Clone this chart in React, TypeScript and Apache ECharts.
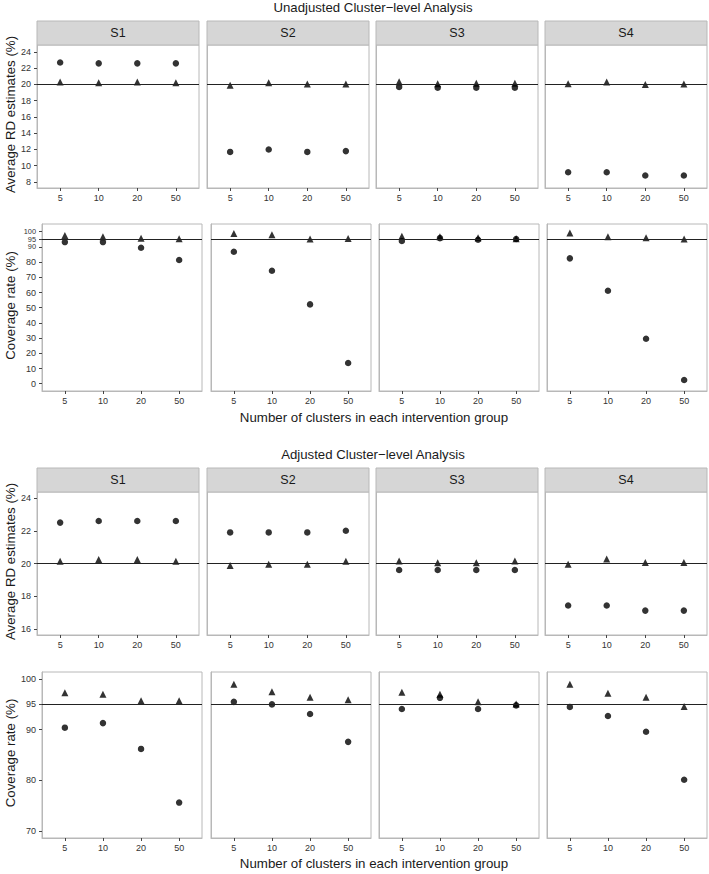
import React, { useEffect, useRef } from 'react';
import * as echarts from 'echarts';

// ---------- data ----------
const xLabels = ['5', '10', '20', '50'];
const scenarios = ['S1', 'S2', 'S3', 'S4'];
const sectionTitles = ['Unadjusted Cluster\u2212level Analysis', 'Adjusted Cluster\u2212level Analysis'];
const yTitleRD = 'Average RD estimates (%)';
const yTitleCov = 'Coverage rate (%)';
const xTitle = 'Number of clusters in each intervention group';

// Unadjusted: average RD estimates (%) per scenario S1..S4, at 5,10,20,50 clusters
const unadjRDCircle = [
  [22.7, 22.6, 22.6, 22.6],
  [11.7, 12.0, 11.7, 11.8],
  [19.7, 19.6, 19.6, 19.6],
  [9.2, 9.2, 8.8, 8.8],
];
const unadjRDTriangle = [
  [20.3, 20.2, 20.3, 20.2],
  [19.9, 20.2, 20.05, 20.05],
  [20.35, 20.1, 20.15, 20.15],
  [20.1, 20.3, 20.0, 20.05],
];
// Unadjusted: coverage rate (%)
const unadjCovCircle = [
  [93.2, 93.2, 89.5, 81.4],
  [86.8, 74.3, 52.2, 13.6],
  [93.9, 95.8, 94.7, 95.2],
  [82.5, 61.2, 29.6, 2.4],
];
const unadjCovTriangle = [
  [97.6, 96.7, 95.8, 95.4],
  [98.9, 98.0, 95.2, 95.6],
  [97.1, 96.7, 96.0, 95.4],
  [99.1, 96.7, 96.0, 95.2],
];
// Adjusted: average RD estimates (%)
const adjRDCircle = [
  [22.5, 22.6, 22.6, 22.6],
  [21.9, 21.9, 21.9, 22.0],
  [19.6, 19.6, 19.6, 19.6],
  [17.43, 17.43, 17.12, 17.12],
];
const adjRDTriangle = [
  [20.14, 20.24, 20.24, 20.14],
  [19.88, 19.96, 19.96, 20.14],
  [20.16, 20.04, 20.04, 20.16],
  [19.96, 20.27, 20.06, 20.06],
];
// Adjusted: coverage rate (%)
const adjCovCircle = [
  [90.4, 91.3, 86.2, 75.6],
  [95.5, 95.0, 93.1, 87.6],
  [94.1, 96.3, 94.1, 94.8],
  [94.5, 92.7, 89.6, 80.1],
];
const adjCovTriangle = [
  [97.3, 97.0, 95.7, 95.7],
  [99.0, 97.5, 96.4, 95.9],
  [97.4, 97.0, 95.5, 95.1],
  [99.0, 97.2, 96.4, 94.6],
];

// tick labels
const unadjRDTicks = [8, 10, 12, 14, 16, 18, 20, 22, 24];
const unadjCovTicks = [0, 10, 20, 30, 40, 50, 60, 70, 80, 90, 95, 100];
const adjRDTicks = [16, 18, 20, 22, 24];
const adjCovTicks = [70, 80, 90, 95, 100];
const unadjCovCrowdedTicks = [[95], [90, 100]];
const rdReference = 20;
const covReference = 95;

// ---------- layout ----------
const FONT = '"Liberation Sans", Arial, Helvetica, sans-serif';
const colsA = [37, 207, 376, 545];
const colsB = [42, 211, 379, 547];

// 'crowded' = groups of tick labels placed on twin axes (slightly smaller) so close labels are all kept
const rows = [
  { circle: unadjRDCircle, tri: unadjRDTriangle, ticks: unadjRDTicks, crowded: [] as number[][], min: 7.26, max: 24.86, ref: rdReference, top: 45, height: 143, lefts: colsA, width: 162, title: yTitleRD, strip: true },
  { circle: unadjCovCircle, tri: unadjCovTriangle, ticks: unadjCovTicks, crowded: unadjCovCrowdedTicks, min: -4.8, max: 105.1, ref: covReference, top: 224, height: 167, lefts: colsB, width: 160, title: yTitleCov, strip: false },
  { circle: adjRDCircle, tri: adjRDTriangle, ticks: adjRDTicks, crowded: [] as number[][], min: 15.63, max: 24.37, ref: rdReference, top: 492, height: 143, lefts: colsA, width: 162, title: yTitleRD, strip: true },
  { circle: adjCovCircle, tri: adjCovTriangle, ticks: adjCovTicks, crowded: [] as number[][], min: 68.6, max: 101.4, ref: covReference, top: 672, height: 166, lefts: colsB, width: 160, title: yTitleCov, strip: false },
];

function buildOption() {
  const grid: any[] = [];
  const xAxis: any[] = [];
  const yAxis: any[] = [];
  const extraY: any[] = [];
  const series: any[] = [];
  const graphic: any[] = [];
  const xPositions = xLabels.map((_, i) => i + 1);
  const labelStyle = { fontSize: 9, color: '#333', fontFamily: FONT };

  rows.forEach((row) => {
    scenarios.forEach((sc, s) => {
      const g = grid.length;
      const left = row.lefts[s];
      grid.push({
        left, top: row.top, width: row.width, height: row.height,
        show: true, borderColor: '#b8b8b8', borderWidth: 1, backgroundColor: '#fff',
        containLabel: false,
      });
      xAxis.push({
        type: 'value', gridIndex: g, min: 0.4, max: 4.6,
        axisLine: { show: true, onZero: false, lineStyle: { color: '#b8b8b8', width: 1 } },
        splitLine: { show: false },
        axisTick: { show: true, length: 3, customValues: xPositions, lineStyle: { color: '#444' } },
        axisLabel: {
          show: true, customValues: xPositions, margin: 5, ...labelStyle,
          showMinLabel: true, showMaxLabel: true,
          formatter: (v: number) => xLabels[Math.round(v) - 1] ?? '',
        },
      });
      const first = s === 0;
      const crowdedAll = row.crowded.flat();
      const mainLabels = row.ticks.filter((t) => !crowdedAll.includes(t));
      yAxis.push({
        type: 'value', gridIndex: g, min: row.min, max: row.max,
        axisLine: { show: true, onZero: false, lineStyle: { color: '#b8b8b8', width: 1 } },
        splitLine: { show: false },
        axisTick: { show: first, length: 3, customValues: row.ticks, lineStyle: { color: '#444' } },
        axisLabel: {
          show: first, customValues: mainLabels, margin: 6, ...labelStyle,
          showMinLabel: true, showMaxLabel: true,
        },
      });
      if (first) {
        row.crowded.forEach((group) => {
          extraY.push({
            type: 'value', gridIndex: g, min: row.min, max: row.max, position: 'left', offset: 0,
            axisLine: { show: false, onZero: false },
            splitLine: { show: false },
            axisTick: { show: false },
            axisLabel: {
              show: true, customValues: group, margin: 6, ...labelStyle, fontSize: 7.4, lineHeight: 7,
              showMinLabel: true, showMaxLabel: true,
            },
          });
        });
      }
      series.push({
        type: 'line', xAxisIndex: g, yAxisIndex: g, data: [], silent: true, z: 1,
        markLine: {
          silent: true, symbol: 'none', animation: false,
          label: { show: false },
          lineStyle: { color: '#222', width: 1.2, type: 'solid' },
          data: [{ yAxis: row.ref }],
        },
      });
      series.push({
        type: 'scatter', name: 'Triangle', xAxisIndex: g, yAxisIndex: g, z: 3,
        symbol: 'triangle', symbolSize: 7,
        itemStyle: { color: '#000' },
        data: row.tri[s].map((v, i) => [xPositions[i], v]),
      });
      series.push({
        type: 'scatter', name: 'Circle', xAxisIndex: g, yAxisIndex: g, z: 3,
        symbol: 'circle', symbolSize: 6.5,
        itemStyle: { color: '#000' },
        data: row.circle[s].map((v, i) => [xPositions[i], v]),
      });
      if (row.strip) {
        graphic.push({
          type: 'rect', z: 10,
          shape: { x: left, y: row.top - 24, width: row.width, height: 24 },
          style: { fill: '#d6d6d6', stroke: '#b8b8b8', lineWidth: 1 },
        });
        graphic.push({
          type: 'text', z: 11, x: left + row.width / 2, y: row.top - 12,
          style: { text: sc, fontSize: 12.5, fontFamily: FONT, fill: '#1a1a1a', textAlign: 'center', textVerticalAlign: 'middle', align: 'center', verticalAlign: 'middle' },
        });
      }
    });
    // y-axis title
    graphic.push({
      type: 'text', z: 11, x: 10, y: row.top + row.height / 2 - 2, rotation: Math.PI / 2,
      style: { text: row.title, fontSize: 13.3, fontFamily: FONT, fill: '#1a1a1a', textAlign: 'center', textVerticalAlign: 'middle', align: 'center', verticalAlign: 'middle' },
    });
  });

  // section titles
  [7, 454].forEach((y, i) => {
    graphic.push({
      type: 'text', z: 11, x: 373, y,
      style: { text: sectionTitles[i], fontSize: 13.2, fontFamily: FONT, fill: '#1a1a1a', textAlign: 'center', textVerticalAlign: 'middle', align: 'center', verticalAlign: 'middle' },
    });
  });
  // x-axis titles
  [417, 863].forEach((y) => {
    graphic.push({
      type: 'text', z: 11, x: 374, y,
      style: { text: xTitle, fontSize: 13.3, fontFamily: FONT, fill: '#1a1a1a', textAlign: 'center', textVerticalAlign: 'middle', align: 'center', verticalAlign: 'middle' },
    });
  });

  return {
    animation: false,
    backgroundColor: '#ffffff',
    textStyle: { fontFamily: FONT },
    grid, xAxis, yAxis: [...yAxis, ...extraY], series, graphic,
  };
}

export default function App() {
  const ref = useRef<HTMLDivElement>(null);
  useEffect(() => {
    if (!ref.current) return;
    const chart = echarts.init(ref.current, undefined, { renderer: 'svg' });
    chart.setOption(buildOption() as any);
    return () => chart.dispose();
  }, []);
  return (
    <div
      ref={ref}
      style={{ position: 'absolute', left: 0, top: 0, width: 709, height: 874, background: '#fff' }}
    />
  );
}
